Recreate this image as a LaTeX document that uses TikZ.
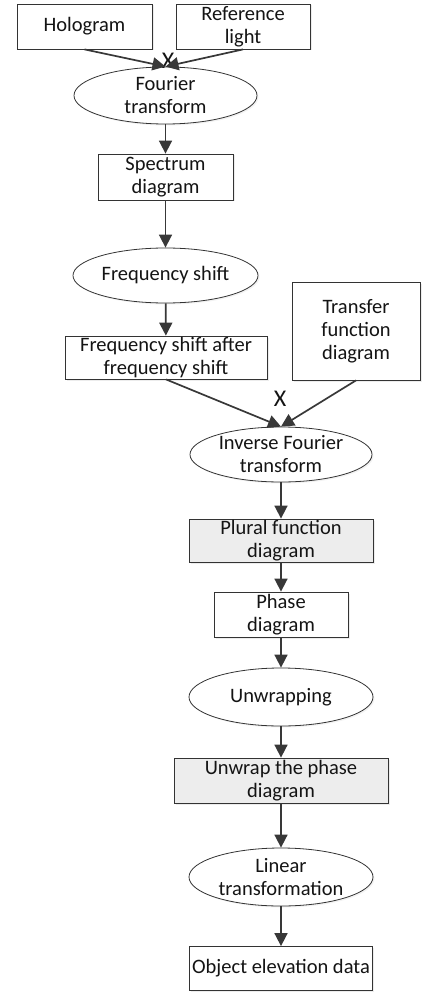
\documentclass[tikz,border=0pt]{standalone}
\usepackage{fontspec}
\setmainfont{Carlito}
\usetikzlibrary{shapes.geometric,arrows.meta,shadows}

\begin{document}
\begin{tikzpicture}[
      x=1pt, y=-1pt,
      every node/.style={
        font=\fontsize{20.5}{23}\selectfont,
        text=black!92,
        align=center,
        inner sep=0pt
      },
      boite/.style={
        draw=black!80,
        line width=0.8pt,
        fill=white,
        drop shadow={shadow xshift=1.5pt,shadow yshift=-1.5pt,fill=black!15}
      },
      grise/.style={
        boite,
        fill=black!7
      },
      ovale/.style={
        draw=black!80,
        line width=0.8pt,
        fill=white,
        ellipse,
        drop shadow={shadow xshift=1.5pt,shadow yshift=-1.5pt,fill=black!10}
      },
      croix/.style={
        font=\fontsize{24}{24}\selectfont
      },
      fleche/.style={
        -{Triangle[length=13pt,width=13pt]},
        draw=black!78,
        line width=1.7pt
      }
    ]
    \useasboundingbox (0,0) rectangle (421,992);

    \node[boite, minimum width=135, minimum height=45] (holo) at (84.5,26.5) {Hologram} ;
    \node[boite, minimum width=134, minimum height=45] (ref) at (243,26.5) {Reference\\light} ;
    \node[ovale, minimum width=183, minimum height=57] (tf) at (165.5,95.5) {Fourier\\transform} ;
    \node[boite, minimum width=135, minimum height=46] (spec) at (165.5,177) {Spectrum\\diagram} ;
    \node[ovale, minimum width=185, minimum height=55] (fs) at (165.5,275.5) {Frequency shift} ;
    \node[boite, minimum width=202, minimum height=43] (fsa) at (166,357.5) {Frequency shift after\\frequency shift} ;
    \node[boite, minimum width=128, minimum height=98] (trans) at (356,331) {Transfer\\function\\diagram} ;
    \node[ovale, minimum width=182, minimum height=55] (itf) at (281,454.5) {Inverse Fourier\\transform} ;
    \node[grise, minimum width=184, minimum height=43] (plur) at (281,540.5) {Plural function\\diagram} ;
    \node[boite, minimum width=134, minimum height=45] (phase) at (281,614.5) {Phase\\diagram} ;
    \node[ovale, minimum width=184, minimum height=58] (unw) at (281,697) {Unwrapping} ;
    \node[grise, minimum width=214, minimum height=45] (unwp) at (281,780.5) {Unwrap the phase\\diagram} ;
    \node[ovale, minimum width=184, minimum height=58] (lin) at (281,877) {Linear\\transformation} ;
    \node[boite, minimum width=183, minimum height=44] (obj) at (281,968.5) {Object elevation data} ;

    % multiplication marks
    \node[croix] (xa) at (168,61) {X} ;
    \node[croix] (xb) at (280,399) {X} ;

    \draw[fleche] (holo.south) -- (tf.north) ;
    \draw[fleche] (ref.south) -- (tf.north) ;
    \draw[fleche] (tf) -- (spec) ;
    \draw[fleche] (spec) -- (fs) ;
    \draw[fleche] (fs) -- (fsa) ;
    \draw[fleche] (fsa.south) -- (itf.north) ;
    \draw[fleche] (trans.south) -- (itf.north) ;
    \draw[fleche] (itf) -- (plur) ;
    \draw[fleche] (plur) -- (phase) ;
    \draw[fleche] (phase) -- (unw) ;
    \draw[fleche] (unw) -- (unwp) ;
    \draw[fleche] (unwp) -- (lin) ;
    \draw[fleche] (lin) -- (obj) ;
  \end{tikzpicture}
\end{document}
